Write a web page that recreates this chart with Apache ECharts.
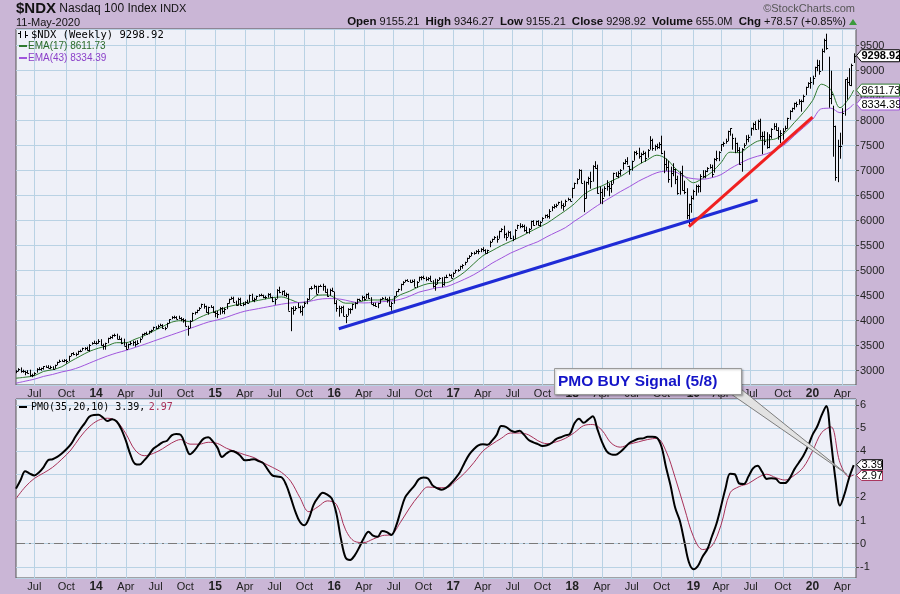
<!DOCTYPE html>
<html><head><meta charset="utf-8">
<script src="https://cdn.jsdelivr.net/npm/echarts@6.0.0/dist/echarts.min.js"></script>
<style>html,body{margin:0;padding:0;background:#cab6d6;}#c{width:900px;height:594px;}</style>
</head><body><div id="c"></div>
<script>
// ---------- DATA ----------
const startDate = [2013, 4, 6];   // first weekly bar: 6-May-2013
const slotCount = 368;            // 367 weekly bars + one empty slot
const monthNames = ['','Jan','Feb','Mar','Apr','May','Jun','Jul','Aug','Sep','Oct','Nov','Dec'];

const closes = [
2990,3040,2990,2990,2980,2960,2910,2910,2960,3040,3030,3050,3090,3080,3050,3080,3040,3110,3170,3200,3200,3220,3200,3300,3350,3340,3330,3390,3400,3450,3460,3410,3520,3560,3560,
3550,3600,3510,3500,3550,3650,3680,3710,3720,3640,3640,3560,3500,3440,3530,3550,3580,3530,3560,3640,3730,3750,3740,3790,3810,3880,3860,3900,3920,3850,3860,3950,4030,4080,4070,4040,4060,4030,4020,3900,3850,4000,4160,4170,4210,4260,4330,4290,4170,4270,4280,4180,
4160,4130,4260,4190,4230,4350,4440,4460,4380,4310,4440,4320,4330,4380,4350,4510,4420,4440,4490,4510,4510,4480,4480,4530,4470,4400,4430,4620,4570,4590,4520,4540,4200,4250,4210,4260,4270,4190,4280,4360,4440,4650,4650,4690,4530,4690,4700,4690,4580,4500,4620,4590,
4350,4250,4250,4280,4100,4090,4240,4230,4330,4350,4430,4420,4480,4440,4530,4450,4340,4320,4290,4350,4430,4450,4440,4420,4300,4360,4490,4590,4630,4730,4780,4820,4800,4780,4800,4680,4780,4870,4880,4850,4830,4850,4800,4700,4740,4820,4860,4730,4870,4880,4920,4860,
4960,5010,5010,5090,5120,5170,5250,5300,5360,5360,5400,5390,5440,5420,5350,5410,5580,5630,5680,5630,5790,5840,5730,5680,5770,5650,5630,5820,5910,5890,5900,5810,5780,5830,5990,5910,5990,5920,5980,6060,6110,6100,6200,6280,6300,6320,6370,6310,6290,6400,6430,6400,
6650,6750,6830,7020,6760,6450,6780,6860,6800,7100,7060,6560,6580,6460,6650,6700,6650,6740,6950,6900,6960,7010,7160,7200,7100,7040,7190,7380,7350,7300,7340,7360,7260,7420,7620,7450,7490,7470,7540,7360,7130,7080,6830,6960,7040,6830,6560,6950,6620,6580,6110,6330,6460,
6590,6690,6690,6890,6900,7000,7060,7080,6930,7240,7250,7380,7530,7550,7600,7800,7850,7650,7550,7410,7130,7430,7520,7640,7670,7850,7940,7830,8000,7700,7690,7590,7470,7700,7830,7900,7820,7700,7750,7800,7850,8050,8200,8250,8360,8330,8400,8400,8500,8670,8760,8770,
8850,9070,9110,8990,9400,9620,9450,8460,8530,7900,6880,7500,7490,8150,8830,8780,8720,9120,9298.92];

const highs = [
3010,3050,3065,3020,3000,3010,3020,2940,2970,3050,3070,3060,3090,3105,3110,3100,3090,3120,3180,3220,3220,3230,3230,3300,3350,3370,3360,3400,3420,3460,3470,3480,3530,3570,3600,
3590,3630,3630,3540,3560,3660,3690,3720,3740,3740,3700,3660,3640,3560,3540,3590,3600,3600,3610,3650,3740,3760,3780,3800,3820,3880,3890,3920,3940,3930,3880,3960,4030,4090,4100,4090,4100,4070,4050,4030,3900,4010,4160,4180,4220,4270,4340,4340,4300,4280,4310,4290,
4200,4200,4270,4270,4260,4350,4440,4480,4480,4400,4460,4460,4370,4390,4420,4520,4540,4460,4500,4530,4540,4520,4500,4550,4550,4480,4450,4630,4680,4600,4610,4560,4540,4270,4290,4290,4360,4300,4300,4380,4450,4650,4690,4720,4700,4700,4720,4740,4700,4640,4640,4660,
4580,4410,4300,4290,4300,4130,4250,4250,4340,4370,4440,4440,4500,4490,4540,4560,4470,4360,4360,4360,4440,4470,4480,4450,4480,4380,4490,4590,4640,4740,4790,4820,4830,4820,4820,4830,4790,4880,4890,4900,4880,4870,4900,4810,4840,4830,4870,4870,4880,4920,4940,4930,
4970,5020,5030,5100,5130,5180,5260,5310,5370,5380,5410,5430,5450,5470,5430,5420,5600,5640,5690,5700,5800,5850,5900,5760,5800,5790,5700,5830,5920,5950,5930,5920,5880,5850,6000,6010,6000,6010,5990,6070,6120,6130,6230,6290,6330,6340,6380,6400,6350,6420,6460,6440,
6660,6760,6850,7030,7020,6800,6780,6880,6980,7110,7190,7120,6680,6640,6690,6810,6750,6800,6960,6970,6990,7030,7170,7230,7270,7100,7200,7390,7400,7460,7360,7400,7380,7430,7690,7640,7520,7540,7570,7700,7400,7240,7200,7080,7150,7040,6900,6990,7100,6800,6650,6340,6500,
6620,6720,6720,6930,7010,7010,7070,7130,7120,7250,7400,7390,7530,7580,7640,7800,7850,7740,7660,7560,7470,7450,7550,7710,7720,7860,7960,7990,8020,8040,7780,7790,7770,7730,7850,7950,7950,7870,7810,7850,7900,8060,8210,8260,8360,8380,8430,8420,8520,8680,8770,8870,
8900,9080,9220,9210,9440,9640,9740,9280,9000,8300,7900,7620,7760,8250,8830,8870,9050,9140,9346.27];

const lows = [
2950,2985,2960,2960,2910,2940,2880,2870,2900,2960,3010,3000,3020,3060,3050,3030,3020,3040,3110,3160,3180,3170,3140,3190,3290,3310,3290,3320,3370,3400,3410,3400,3380,3520,3540,
3520,3540,3500,3420,3420,3550,3630,3640,3680,3630,3620,3530,3500,3420,3440,3510,3500,3480,3520,3560,3640,3710,3720,3730,3760,3810,3830,3840,3890,3840,3810,3860,3950,4030,4040,4030,4030,3990,3960,3890,3700,3850,3990,4120,4150,4200,4260,4240,4160,4120,4260,4160,
4070,4050,4120,4140,4130,4230,4340,4420,4370,4300,4300,4300,4290,4310,4340,4360,4400,4370,4420,4480,4490,4450,4430,4460,4460,4370,4320,4440,4550,4510,4490,4470,4200,3790,4120,4200,4250,4150,4100,4270,4330,4420,4620,4640,4530,4550,4680,4600,4560,4480,4500,4580,
4330,4180,4080,4150,4090,3950,4100,4140,4210,4240,4330,4390,4400,4400,4440,4440,4330,4290,4280,4250,4340,4420,4420,4360,4290,4200,4340,4490,4570,4600,4710,4770,4790,4760,4760,4680,4660,4780,4810,4830,4790,4800,4790,4660,4600,4730,4810,4670,4700,4850,4890,4850,
4870,4950,4980,5010,5040,5110,5170,5240,5290,5320,5340,5330,5370,5380,5340,5340,5470,5570,5620,5560,5640,5770,5650,5600,5680,5630,5590,5630,5830,5850,5860,5780,5750,5740,5830,5900,5910,5900,5880,5980,6050,6050,6040,6190,6240,6260,6320,6240,6200,6290,6400,6390,
6450,6640,6730,6830,6750,6170,6440,6720,6640,6780,7040,6540,6340,6330,6480,6600,6490,6560,6740,6880,6850,6900,7020,7130,7120,6920,7000,7200,7310,7240,7150,7310,7180,7260,7420,7400,7400,7430,7440,7330,6950,7000,6760,6670,6890,6730,6520,6520,6600,6530,6030,5900,6160,
6420,6500,6560,6570,6850,6850,6970,7040,6870,6960,7190,7190,7390,7480,7540,7590,7700,7420,7350,7370,7120,6980,7450,7520,7570,7700,7810,7820,7820,7620,7330,7510,7440,7450,7640,7820,7800,7620,7550,7620,7800,7840,8020,8170,8220,8270,8320,8180,8370,8510,8660,8640,
8720,8870,8990,8920,9000,9360,9420,8260,8330,7280,6800,6770,7240,7520,8100,8420,8710,8690,9155.21];

// EMA values read every 4 weeks (last value = final week)
const ema17 = [
2850,2870,2900,2985,3020,3080,3190,3290,3385,3450,
3500,3560,3560,3630,3700,3790,3880,3970,4000,3980,
4060,4140,4200,4270,4315,4355,4390,4425,4460,4475,
4420,4360,4390,4510,4515,4440,4350,4355,4400,4414,
4414,4420,4520,4590,4680,4740,4755,4760,4850,4975,
5140,5300,5400,5500,5585,5670,5765,5860,5950,6075,
6200,6340,6520,6630,6695,6790,6880,7000,7120,7220,
7310,7240,7050,6890,6760,6850,6970,7160,7370,7360,
7480,7590,7614,7640,7760,7960,8160,8400,8730,8620,
8260,8450,8611.73];
const ema43 = [
2750,2790,2830,2885,2925,2975,3015,3075,3150,3225,
3295,3355,3405,3465,3525,3590,3654,3717,3780,3845,
3910,3973,4015,4070,4135,4190,4225,4260,4295,4330,
4355,4365,4385,4425,4442,4440,4410,4370,4355,4365,
4380,4395,4428,4490,4570,4615,4660,4680,4750,4830,
4920,5030,5150,5250,5350,5430,5510,5580,5680,5770,
5860,5990,6110,6240,6360,6470,6580,6680,6790,6880,
6960,6990,6975,6880,6840,6830,6860,6920,7040,7140,
7230,7290,7340,7420,7530,7700,7860,8025,8240,8250,
8160,8250,8334.39];

// PMO read every 2 weeks
const pmo = [
2.38,2.75,3.13,3.03,2.95,3.08,3.3,3.6,3.65,3.75,
3.9,4.08,4.3,4.63,4.93,5.2,5.48,5.56,5.57,5.45,
5.3,5.38,5.28,4.95,4.45,3.85,3.45,3.42,3.6,3.83,
4.1,4.24,4.38,4.45,4.68,4.74,4.7,4.25,3.86,4.03,
4.3,4.54,4.6,4.42,4.15,3.75,3.9,4.0,3.95,3.8,
3.6,3.62,3.65,3.57,3.48,3.2,2.95,2.9,2.87,2.55,
2.0,1.4,0.95,0.8,1.1,1.68,2.0,2.2,2.12,1.95,
1.3,0.2,-0.6,-0.7,-0.5,-0.15,0.25,0.52,0.35,0.3,
0.55,0.5,0.38,0.75,1.4,2.0,2.27,2.5,2.78,2.86,
2.82,2.52,2.4,2.33,2.42,2.6,2.82,3.1,3.5,3.85,
4.08,4.25,4.3,4.27,4.45,4.7,5.08,5.05,4.9,4.83,
4.88,4.7,4.48,4.38,4.3,4.22,4.25,4.35,4.52,4.6,
4.68,4.74,5.2,5.4,5.22,5.36,5.5,4.95,4.4,4.0,
3.86,3.84,3.96,4.15,4.35,4.45,4.53,4.55,4.62,4.62,
4.58,4.2,3.3,2.5,1.55,1.0,0.1,-0.8,-1.1,-0.95,
-0.55,-0.25,0.3,0.85,1.6,2.4,3.02,3.0,2.6,2.58,
2.9,3.25,3.37,3.1,2.8,2.83,2.8,2.62,2.62,2.82,
3.2,3.5,3.8,4.2,4.7,5.05,5.55,5.95,4.5,2.8,
1.65,2.15,2.85,3.39];
// PMO signal read every 4 weeks
const pmoSignal = [
1.95,2.45,2.82,3.05,3.3,3.65,4.05,4.6,5.05,5.33,
5.42,5.28,4.75,4.05,3.8,3.9,4.1,4.35,4.5,4.3,
4.3,4.38,4.33,4.12,3.98,3.84,3.72,3.5,3.3,3.08,
2.7,2.0,1.38,1.6,1.85,1.7,0.6,0.1,0.05,0.2,
0.35,0.4,0.93,1.55,2.08,2.45,2.42,2.42,2.7,3.05,
3.5,4.0,4.3,4.55,4.78,4.78,4.7,4.45,4.32,4.4,
4.55,4.8,5.1,5.15,4.9,4.35,4.17,4.3,4.4,4.5,
4.55,4.0,2.85,1.55,0.3,-0.25,-0.1,0.8,2.2,2.47,
2.6,2.85,3.0,2.85,2.75,2.95,3.3,4.0,4.8,5.05,
3.5,2.9,2.97];

const blueTrend = [[141, 3840], [324, 6414]];
const redTrend = [[294, 5880], [348, 8070]];
const quote = {open: '9155.21', high: '9346.27', low: '9155.21', close: '9298.92', volume: '655.0M', chg: '+78.57 (+0.85%)'};

// ---------- BUILD ----------
const categories = [];
(function(){
  let t = Date.UTC(startDate[0], startDate[1], startDate[2]);
  for (let i = 0; i < slotCount; i++) { categories.push(new Date(t).toISOString().slice(0,10)); t += 7*86400000; }
})();
const lastIdx = closes.length - 1;
function sparse(vals, step){ return vals.map((v,k)=>[categories[Math.min(k*step, lastIdx)], v]); }
function isQuarter(i){
  if (i <= 0 || i >= categories.length) return false;
  const m = +categories[i].slice(5,7), pm = +categories[i-1].slice(5,7);
  return m !== pm && (m===1||m===4||m===7||m===10);
}
function xFmt(v){ const m = +v.slice(5,7); return m===1 ? '{y|'+v.slice(2,4)+'}' : monthNames[m]; }

const FONT = '"Liberation Sans", Arial, sans-serif';
const MONO = '"DejaVu Sans Mono", monospace';
const GRIDC = '#b9d2e4';
const BG = '#cab6d6';
const PANEL = '#eef0f8';
const GREEN = '#2f7a2f', PURPLE = '#a055dc', SIG = '#a83058';

function mkX(g){
  return {type:'category', gridIndex:g, data:categories, boundaryGap:false,
    axisLine:{show:false}, axisTick:{show:false},
    axisLabel:{interval:isQuarter, formatter:xFmt, color:'#222', fontSize:11, fontFamily:FONT, margin:3,
      rich:{y:{fontWeight:'bold', fontSize:12, fontFamily:FONT, color:'#222'}}},
    splitLine:{show:true, interval:isQuarter, lineStyle:{color:GRIDC, width:1}}};
}
function mkY(g, min, max, split){
  return {type:'value', gridIndex:g, position:'right', min:min, max:max, splitNumber:split,
    axisLine:{show:false}, axisTick:{show:true, length:3, lineStyle:{color:'#555'}},
    axisLabel:{color:'#222', fontSize:11, fontFamily:FONT, margin:4, showMinLabel:false, showMaxLabel:false, formatter:v=>String(v)},
    splitLine:{show:true, lineStyle:{color:GRIDC, width:1}}};
}

const chart = echarts.init(document.getElementById('c'), null, {renderer:'canvas', width:900, height:594});
chart.setOption({
  animation:false,
  backgroundColor:BG,
  grid:[
    {left:16, right:44, top:29, height:356, show:true, backgroundColor:PANEL, borderColor:'#555', borderWidth:1},
    {left:16, right:44, top:399, height:179, show:true, backgroundColor:PANEL, borderColor:'#555', borderWidth:1}
  ],
  xAxis:[mkX(0), mkX(1)],
  yAxis:[mkY(0, 2714, 9834, 14), mkY(1, -1.48, 6.25, 8)],
  series:[
    {type:'line', name:'EMA17', xAxisIndex:0, yAxisIndex:0, data:sparse(ema17,4), smooth:0.35, showSymbol:false,
      lineStyle:{color:GREEN, width:1}, z:2, silent:true},
    {type:'line', name:'EMA43', xAxisIndex:0, yAxisIndex:0, data:sparse(ema43,4), smooth:0.35, showSymbol:false,
      lineStyle:{color:PURPLE, width:1}, z:2, silent:true},
    {type:'custom', name:'NDX', xAxisIndex:0, yAxisIndex:0, z:3, silent:true, clip:true,
      data: closes.map((c,i)=>[i, highs[i], lows[i], c]),
      encode:{x:0, y:[1,2,3]},
      renderItem:function(params, api){
        const i = api.value(0);
        const pH = api.coord([i, api.value(1)]), pL = api.coord([i, api.value(2)]), pC = api.coord([i, api.value(3)]);
        const x = Math.round(pH[0]) + 0.5;
        return {type:'group', children:[
          {type:'line', shape:{x1:x, y1:pH[1], x2:x, y2:pL[1]}, style:{stroke:'#000', lineWidth:1}},
          {type:'line', shape:{x1:x, y1:Math.round(pC[1])+0.5, x2:x+1.6, y2:Math.round(pC[1])+0.5}, style:{stroke:'#000', lineWidth:1}}
        ]};
      }},
    {type:'line', xAxisIndex:0, yAxisIndex:0, data:blueTrend.map(p=>[categories[p[0]], p[1]]), showSymbol:false,
      lineStyle:{color:'#1f2bd6', width:3}, z:5, silent:true},
    {type:'line', xAxisIndex:0, yAxisIndex:0, data:redTrend.map(p=>[categories[p[0]], p[1]]), showSymbol:false,
      lineStyle:{color:'#f02020', width:3}, z:5, silent:true},
    {type:'line', name:'Signal', xAxisIndex:1, yAxisIndex:1, data:sparse(pmoSignal,4), smooth:0.35, showSymbol:false,
      lineStyle:{color:SIG, width:1}, z:3, silent:true},
    {type:'line', name:'PMO', xAxisIndex:1, yAxisIndex:1, data:sparse(pmo,2), smooth:0.35, showSymbol:false,
      lineStyle:{color:'#000', width:2}, z:4, silent:true,
      markLine:{silent:true, symbol:'none', label:{show:false}, data:[{yAxis:0}],
        lineStyle:{color:'#7a7a7a', width:1, type:[9,4,2,4]}}}
  ]
});

// ---------- ANNOTATIONS ----------
const xRight = chart.convertToPixel({xAxisIndex:0}, categories[slotCount-1]);
function yMain(v){ return chart.convertToPixel({yAxisIndex:0}, v); }
function yPmo(v){ return chart.convertToPixel({yAxisIndex:1}, v); }
function tag(yc, text, border, w, h, bold){
  const x0 = xRight + 0.5;
  return [
    {type:'polygon', z:100, shape:{points:[[x0,yc],[x0+5,yc-h/2],[x0+w,yc-h/2],[x0+w,yc+h/2],[x0+5,yc+h/2]]},
      style:{fill:'#fff', stroke:border, lineWidth:1}},
    {type:'text', z:101, x:x0+5, y:yc+0.5, style:{text:text, fill:'#000', font:(bold?'bold ':'')+'11px '+FONT, verticalAlign:'middle', align:'left'}}
  ];
}
const tipX = chart.convertToPixel({xAxisIndex:1}, categories[363]);
const tipY = yPmo(3.0);
const g = [];
// header
g.push({type:'text', z:100, x:16, y:9, style:{text:'{a|$NDX} {b|Nasdaq 100 Index} {c|INDX}', verticalAlign:'middle',
  rich:{a:{font:'bold 15px '+FONT, fill:'#111'}, b:{font:'12px '+FONT, fill:'#111'}, c:{font:'11px '+FONT, fill:'#111'}}}});
g.push({type:'text', z:100, x:16, y:23, style:{text:'11-May-2020', font:'11px '+FONT, fill:'#111', verticalAlign:'middle'}});
g.push({type:'text', z:100, x:855, y:9, style:{text:'\u00A9StockCharts.com', font:'11px '+FONT, fill:'#555', align:'right', verticalAlign:'middle'}});
g.push({type:'text', z:100, x:846, y:22, style:{
  text:'{k|Open} '+quote.open+'  {k|High} '+quote.high+'  {k|Low} '+quote.low+'  {k|Close} '+quote.close+'  {k|Volume} '+quote.volume+'  {k|Chg} '+quote.chg,
  font:'11px '+FONT, fill:'#111', align:'right', verticalAlign:'middle', rich:{k:{font:'bold 11.5px '+FONT, fill:'#111'}}}});
g.push({type:'polygon', z:100, shape:{points:[[849,25],[853,19],[857,25]]}, style:{fill:'#3b9a3b'}});
// price legend
g.push({type:'line', z:100, shape:{x1:20.5,y1:31,x2:20.5,y2:38}, style:{stroke:'#000', lineWidth:1}});
g.push({type:'line', z:100, shape:{x1:18,y1:33.5,x2:20.5,y2:33.5}, style:{stroke:'#000', lineWidth:1}});
g.push({type:'line', z:100, shape:{x1:25.5,y1:31,x2:25.5,y2:38}, style:{stroke:'#000', lineWidth:1}});
g.push({type:'line', z:100, shape:{x1:25.5,y1:35.5,x2:28,y2:35.5}, style:{stroke:'#000', lineWidth:1}});
g.push({type:'text', z:100, x:31, y:35, style:{text:'$NDX (Weekly) '+quote.close, font:'10.5px '+MONO, fill:'#000', verticalAlign:'middle'}});
g.push({type:'rect', z:100, shape:{x:19, y:45, width:8, height:2}, style:{fill:GREEN}});
g.push({type:'text', z:100, x:28, y:46, style:{text:'EMA(17) '+ema17[ema17.length-1], font:'10px '+FONT, fill:'#2a6a2a', verticalAlign:'middle'}});
g.push({type:'rect', z:100, shape:{x:19, y:57, width:8, height:2}, style:{fill:PURPLE}});
g.push({type:'text', z:100, x:28, y:58, style:{text:'EMA(43) '+ema43[ema43.length-1], font:'10px '+FONT, fill:'#8a3fc8', verticalAlign:'middle'}});
// PMO legend
g.push({type:'rect', z:100, shape:{x:19, y:406, width:8, height:2}, style:{fill:'#000'}});
g.push({type:'text', z:100, x:31, y:407.5, style:{text:'{k|PMO(35,20,10) '+pmo[pmo.length-1]+',} {r|'+pmoSignal[pmoSignal.length-1]+'}',
  verticalAlign:'middle', rich:{k:{font:'10px '+MONO, fill:'#000'}, r:{font:'10px '+MONO, fill:SIG}}}});
// value tags
tag(yMain(closes[lastIdx]), quote.close, '#000', 43, 12, true).forEach(e=>g.push(e));
tag(yMain(ema17[ema17.length-1]), String(ema17[ema17.length-1]), GREEN, 43, 12, false).forEach(e=>g.push(e));
tag(yMain(ema43[ema43.length-1]), String(ema43[ema43.length-1]), PURPLE, 43, 12, false).forEach(e=>g.push(e));
tag(yPmo(pmo[pmo.length-1]) - 0.5, String(pmo[pmo.length-1]), '#000', 26, 10, false).forEach(e=>g.push(e));
tag(yPmo(pmoSignal[pmoSignal.length-1]) + 0.5, String(pmoSignal[pmoSignal.length-1]), SIG, 26, 10, false).forEach(e=>g.push(e));
// callout
g.push({type:'polygon', z:98, shape:{points:[[731,394],[741,389],[tipX,tipY]]}, style:{fill:'#e2e2e2', stroke:'#7d7d7d', lineWidth:1}});
g.push({type:'rect', z:99, shape:{x:554.5, y:368.5, width:187, height:26}, style:{fill:'#fff', stroke:'#9a9a9a', lineWidth:1,
  shadowBlur:2, shadowColor:'rgba(0,0,0,0.25)', shadowOffsetX:1, shadowOffsetY:1}});
g.push({type:'text', z:100, x:558, y:382, style:{text:'PMO BUY Signal (5/8)', font:'bold 15.5px '+FONT, fill:'#1414c8', verticalAlign:'middle'}});
chart.setOption({graphic:g});
</script>
</body></html>
